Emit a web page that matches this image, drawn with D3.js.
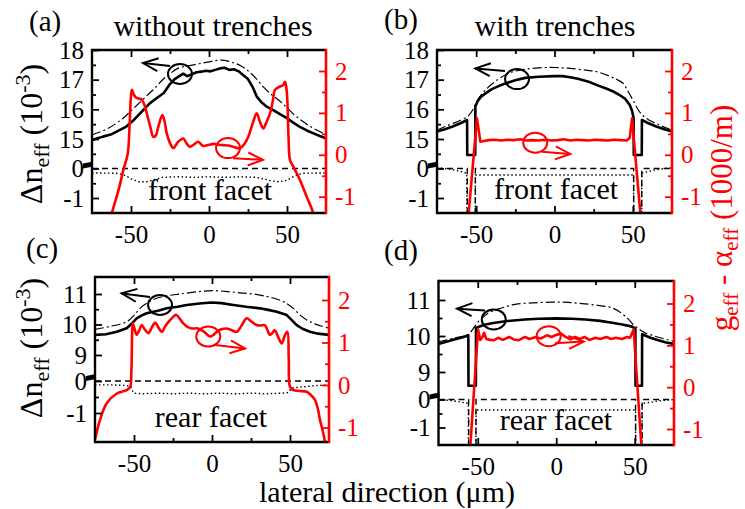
<!DOCTYPE html>
<html><head><meta charset="utf-8">
<script src="https://cdn.jsdelivr.net/npm/d3@7"></script>
<style>body{margin:0;background:#fff}svg{display:block}text{font-family:"Liberation Serif","Times New Roman",Times,serif}</style>
</head><body><svg id="c" width="745" height="509"></svg>
<script>
// ---------- data ----------
const xDomain=[-75,75];
const xTickValues=[-50,0,50];
const xMinorValues=[-25,25];
const topUpperTicks=[15,16,17,18];
const topUpperMinor=[14.5,15.5,16.5,17.5];
const botUpperTicks=[9,10,11];
const botUpperMinor=[9.5,10.5];
const lowerTicks=[-1,0];
const lowerMinor=[-0.5];
const rightTicks=[-1,0,1,2];
const rightMinor=[-0.5,0.5,1.5];

// panel (a) front facet, without trenches
const aSolid=[[-75,14.97],[-68,15.08],[-63,15.15],[-58,15.28],[-53,15.42],[-48,15.65],[-44,15.87],[-38,16.2],[-33,16.4],[-29,16.55],[-25,16.85],[-22,17.02],[-19,17.12],[-16.5,17.2],[-14,17.12],[-11,17.18],[-8,17.25],[-5,17.27],[-2,17.3],[1,17.28],[4,17.33],[7,17.38],[10,17.4],[13,17.33],[16,17.35],[19,17.28],[22,17.15],[25,17.02],[28,16.75],[30.6,16.43],[34,16.22],[37,16.09],[42,15.95],[46,15.82],[50,15.7],[54,15.55],[58,15.42],[63,15.28],[67,15.19],[71,15.1],[75,15.02]];
const aDashDot=[[-75,15.14],[-65,15.35],[-55,15.7],[-50,15.95],[-45,16.2],[-40,16.45],[-35,16.7],[-30,16.98],[-25,17.2],[-20,17.38],[-15,17.45],[-10,17.5],[-5,17.55],[0,17.6],[5,17.65],[10,17.65],[15,17.58],[20,17.48],[25,17.3],[30,17.05],[35,16.75],[40,16.5],[45,16.3],[50,16.05],[55,15.8],[60,15.6],[65,15.42],[70,15.28],[75,15.15]];
const aDashed=[[-75,0],[75,0]];
const aDotted=[[-75,-0.15],[-60,-0.16],[-55,-0.2],[-50,-0.35],[-45,-0.45],[-40,-0.45],[-35,-0.38],[-30,-0.3],[-20,-0.28],[-10,-0.3],[0,-0.28],[10,-0.3],[20,-0.28],[30,-0.3],[35,-0.35],[40,-0.42],[45,-0.45],[50,-0.4],[55,-0.25],[60,-0.16],[75,-0.15]];
const aRed=[[-75,-3],[-62.4,-1.4],[-59.2,-1.0],[-57,-0.7],[-54.9,-0.36],[-52.5,-0.05],[-51.7,0.15],[-50.8,0.8],[-50,1.4],[-49.4,1.55],[-48,1.42],[-46.3,1.35],[-43.5,1.33],[-41.5,1.2],[-39.9,0.99],[-37.5,0.65],[-35.7,0.43],[-34,0.47],[-32.5,0.67],[-29.9,0.95],[-28.5,0.8],[-27.1,0.51],[-25,0.28],[-22.9,0.16],[-20,0.3],[-16.5,0.39],[-14.5,0.28],[-12.2,0.19],[-9.5,0.25],[-6.9,0.31],[-3.7,0.21],[0,0.24],[2.8,0.26],[6,0.24],[9.2,0.23],[12.5,0.22],[15.6,0.19],[19.9,0.16],[22.5,0.25],[25.2,0.43],[28,0.75],[30.6,0.99],[32.5,0.8],[34.8,0.63],[36.5,0.75],[39.1,0.99],[41,1.3],[42.3,1.55],[45.5,1.63],[47.5,1.66],[48.7,1.74],[49.6,1.6],[50.2,1.31],[51,0.4],[51.9,-0.12],[54,-0.28],[58.3,-0.6],[62.6,-1.0],[66.9,-1.4],[75,-3]];

// panel (b) front facet, with trenches
const bSolid=[[-75,15.25],[-70,15.33],[-65,15.42],[-60,15.53],[-55.8,15.64],[-55.7,14.46],[-50.6,14.46],[-50.5,16.1],[-49,16.28],[-47,16.42],[-44,16.54],[-40,16.68],[-35,16.8],[-31,16.88],[-25,16.98],[-18.7,17.06],[-10,17.1],[0,17.12],[5,17.12],[10,17.08],[15,17.03],[21.8,16.93],[28,16.8],[33,16.7],[36.7,16.62],[41,16.5],[45.2,16.35],[48,16.15],[49.5,15.95],[50.5,15.7],[50.6,14.46],[55.7,14.46],[55.8,15.64],[60,15.53],[65,15.42],[70,15.33],[75,15.25]];
const bDashDot=[[-75,15.3],[-70,15.42],[-65,15.52],[-60,15.63],[-55,15.78],[-52,16.0],[-49,16.32],[-45,16.6],[-40.7,16.82],[-35,17.05],[-28,17.24],[-20,17.34],[-10,17.4],[0,17.41],[10,17.38],[20,17.32],[26.8,17.27],[35,17.12],[40,17.0],[43.7,16.88],[47,16.6],[50,16.32],[53,16.02],[56,15.81],[60,15.65],[65,15.52],[70,15.4],[75,15.3]];
const bDashed=[[-75,0],[-55.7,0],[-55.6,-3],[-50.6,-3],[-50.5,0],[50.5,0],[50.6,-3],[55.6,-3],[55.7,0],[75,0]];
const bDotted=[[-75,0.02],[-70,0],[-65,-0.04],[-60,-0.1],[-56,-0.16],[-55.7,-3],[-50.6,-3],[-50.5,-0.22],[50.5,-0.22],[50.6,-3],[55.6,-3],[55.7,-0.16],[60,-0.1],[65,-0.04],[70,0],[75,0.02]];
const bRed=[[-56,-2],[-54.8,-1.4],[-49.5,0.87],[-47.3,0.31],[-45,0.33],[-42,0.35],[-38,0.36],[-34,0.34],[-30,0.36],[-26,0.35],[-22,0.37],[-18,0.34],[-14,0.35],[-10,0.34],[-6,0.36],[-2,0.34],[2,0.35],[6,0.37],[10,0.34],[14,0.36],[18,0.35],[22,0.34],[26,0.36],[30,0.35],[34,0.34],[38,0.36],[42,0.35],[46,0.34],[48,0.4],[49.5,0.87],[54.8,-1.4],[56,-2]];

// panel (c) rear facet, without trenches
const cSolid=[[-75,9.66],[-68,9.68],[-61,9.76],[-54.7,9.88],[-51,10.05],[-48.3,10.2],[-45,10.3],[-41.9,10.37],[-34,10.46],[-29,10.53],[-22,10.58],[-16.2,10.64],[-8,10.69],[-0.2,10.72],[6,10.7],[13.7,10.64],[22,10.58],[30.8,10.53],[36,10.48],[41.5,10.42],[47.9,10.31],[51,10.15],[54.3,9.98],[58,9.86],[62.8,9.76],[68,9.7],[75,9.66]];
const cDashDot=[[-75,9.84],[-65,9.94],[-54.7,10.09],[-50,10.3],[-46.2,10.53],[-41,10.72],[-35.5,10.86],[-28,10.95],[-20.5,11.0],[-10,11.07],[0,11.11],[10,11.08],[18,11.04],[26.5,11.0],[35,10.92],[40,10.86],[45.7,10.75],[49,10.65],[52.1,10.53],[56,10.33],[60.7,10.15],[66,10.02],[70,9.95],[75,9.88]];
const cDashed=[[-75,0],[75,0]];
const cDotted=[[-75,-0.12],[-65,-0.12],[-55,-0.14],[-52,-0.18],[-51,-0.3],[-50,-0.38],[-45,-0.4],[-35,-0.38],[-25,-0.4],[-15,-0.38],[-5,-0.4],[5,-0.38],[15,-0.4],[25,-0.38],[35,-0.4],[45,-0.38],[49,-0.36],[51,-0.22],[55,-0.2],[65,-0.15],[75,-0.12]];
const cRed=[[-75,-1.29],[-71.8,-0.82],[-67.5,-0.43],[-61,-0.2],[-54.7,-0.12],[-52.5,-0.05],[-51.7,0.3],[-51.2,1.2],[-50.8,1.45],[-49.5,1.3],[-48.3,1.18],[-46.5,1.3],[-45.1,1.41],[-43,1.3],[-40.8,1.22],[-38.5,1.36],[-36.5,1.47],[-34.3,1.35],[-32.2,1.25],[-30,1.38],[-28,1.48],[-25.5,1.58],[-23,1.65],[-20.5,1.55],[-18.4,1.45],[-15.5,1.36],[-13,1.33],[-9,1.33],[-5,1.25],[-1.3,1.14],[1,1.18],[3,1.25],[6,1.31],[9,1.33],[12,1.3],[15.8,1.25],[19,1.4],[22.2,1.57],[25,1.5],[28.6,1.41],[31,1.4],[33.8,1.41],[35.5,1.3],[37,1.18],[38.6,1.22],[40.2,1.29],[42.5,1.12],[44.7,0.98],[46.5,1.15],[48.3,1.25],[49.2,0.6],[50,-0.04],[52.1,-0.12],[56,-0.14],[60.7,-0.16],[63.5,-0.24],[66,-0.35],[67.8,-0.55],[69.2,-0.82],[70.8,-1.05],[72.4,-1.33],[75,-2]];

// panel (d) rear facet, with trenches
const dSolid=[[-75,9.78],[-70,9.84],[-65,9.9],[-60,9.96],[-56,10.02],[-55.9,8.62],[-51.2,8.62],[-51.1,10.23],[-48,10.28],[-45,10.32],[-40,10.36],[-32.4,10.41],[-20,10.46],[-11.2,10.48],[0,10.49],[10,10.48],[18.5,10.46],[28,10.42],[35.5,10.37],[42,10.32],[48.3,10.26],[50.4,10.2],[50.5,8.62],[54.6,8.62],[54.7,10.05],[60,9.95],[65,9.88],[70,9.82],[75,9.78]];
const dDashDot=[[-75,9.84],[-65,9.94],[-56,10.05],[-53,10.2],[-49.4,10.41],[-45,10.58],[-40.9,10.69],[-33,10.8],[-26.1,10.88],[-15,10.92],[-2.7,10.94],[5,10.94],[14.3,10.91],[25,10.86],[35.5,10.78],[42,10.62],[46.1,10.46],[49,10.32],[52.5,10.2],[56,10.1],[61,10.02],[68,9.93],[75,9.85]];
const dDashed=[[-75,0],[-55.8,0],[-55.7,-3],[-51.2,-3],[-51.1,0],[50.5,0],[50.6,-3],[54.6,-3],[54.7,0],[75,0]];
const dDotted=[[-75,0],[-70,-0.02],[-65,-0.05],[-60,-0.1],[-56,-0.14],[-55.9,-3],[-51.2,-3],[-51.1,-0.375],[50.5,-0.375],[50.6,-3],[54.6,-3],[54.7,-0.14],[60,-0.1],[65,-0.05],[70,-0.02],[75,0]];
const dRed=[[-56,-2],[-54.7,-1.39],[-49.8,1.38],[-48.4,1.13],[-47,1.2],[-46,1.3],[-44.5,1.15],[-42,1.13],[-40,1.12],[-37,1.18],[-34,1.13],[-30,1.2],[-27,1.14],[-24,1.12],[-20,1.2],[-17,1.15],[-13,1.2],[-10,1.16],[-6,1.24],[-3,1.2],[0,1.25],[3,1.28],[6,1.2],[9,1.14],[12,1.2],[15,1.15],[18,1.2],[21,1.13],[25,1.18],[28,1.15],[32,1.2],[35,1.15],[38,1.18],[42,1.15],[45,1.2],[47,1.18],[49.3,1.38],[54.2,-1.39],[56,-2]];

// annotation anchors (data units): circle centre on left axis / right axis, arrows tail->tip
const aNotes={bc:[-18.6,17.19],ba:[[-25,17.46],[-42.3,17.56]],rc:[12.2,0.16],ra:[[15.4,-0.08],[34.6,-0.12]]};
const bNotes={bc:[-23.9,17.02],ba:[[-31.6,17.29],[-50.5,17.38]],rc:[-12.3,0.29],ra:[[-8.1,0.07],[10.1,0.02]]};
const cNotes={bc:[-33.3,10.64],ba:[[-39.7,10.9],[-57.9,11.02]],rc:[-2.4,1.14],ra:[[1.9,0.94],[21.2,0.86]]};
const dNotes={bc:[-39.8,10.46],ba:[[-45.4,10.71],[-63.2,10.76]],rc:[-4.8,1.22],ra:[[-0.8,1.05],[17.5,1.09]]};

// ---------- layout ----------
const panels=[
 {letter:"(a)",title:"without trenches",facet:"front facet",box:[92,326,50,213],up:[15,18,139,50],lo:[-1,0,198,168.5],r:[-1,2,196.7,71],upT:topUpperTicks,upM:topUpperMinor,
  solid:aSolid,dashdot:aDashDot,dashed:aDashed,dotted:aDotted,red:aRed,redCurve:true,notes:aNotes,letterPos:[29,31],titlePos:[213,36],facetPos:[210,200]},
 {letter:"(b)",title:"with trenches",facet:"front facet",box:[437,672,50,213],up:[15,18,139,50],lo:[-1,0,198,168.5],r:[-1,2,196.7,71],upT:topUpperTicks,upM:topUpperMinor,
  solid:bSolid,dashdot:bDashDot,dashed:bDashed,dotted:bDotted,red:bRed,redCurve:false,notes:bNotes,letterPos:[384,29],titlePos:[555,36],facetPos:[556,199]},
 {letter:"(c)",title:null,facet:"rear facet",box:[95,329,277,442],up:[9,11,355,294],lo:[-1,0,413,381],r:[-1,2,427.5,300],upT:botUpperTicks,upM:botUpperMinor,
  solid:cSolid,dashdot:cDashDot,dashed:cDashed,dotted:cDotted,red:cRed,redCurve:true,notes:cNotes,letterPos:[26,258],titlePos:null,facetPos:[211,427]},
 {letter:"(d)",title:null,facet:"rear facet",box:[438.5,674,281,445],up:[9,11,372,300],lo:[-1,0,427.5,399.5],r:[-1,2,429,303.5],upT:botUpperTicks,upM:botUpperMinor,
  solid:dSolid,dashdot:dDashDot,dashed:dDashed,dotted:dDotted,red:dRed,redCurve:false,notes:dNotes,letterPos:[384,260],titlePos:null,facetPos:[556,430]}
];

const RED="#ff0000";
const FONT='"Liberation Serif","Times New Roman",Times,serif';
const svg=d3.select("#c");
const defs=svg.append("defs");

function arrow(g,p0,p1,color){
  const dx=p1[0]-p0[0],dy=p1[1]-p0[1],len=Math.hypot(dx,dy),ux=dx/len,uy=dy/len;
  const L=15,W=6.5;
  g.append("line").attr("x1",p0[0]).attr("y1",p0[1]).attr("x2",p1[0]).attr("y2",p1[1]).attr("stroke",color).attr("stroke-width",2);
  g.append("polyline").attr("points",[[p1[0]-ux*L-uy*W,p1[1]-uy*L+ux*W],p1,[p1[0]-ux*L+uy*W,p1[1]-uy*L-ux*W]].map(q=>q.join(",")).join(" "))
   .attr("fill","none").attr("stroke",color).attr("stroke-width",2);
}

panels.forEach((p,i)=>{
  const [L,R,T,B]=p.box;
  const x=d3.scaleLinear(xDomain,[L,R]);
  const yU=d3.scaleLinear([p.up[0],p.up[1]],[p.up[2],p.up[3]]);
  const yL=d3.scaleLinear([p.lo[0],p.lo[1]],[p.lo[2],p.lo[3]]);
  const yR=d3.scaleLinear([p.r[0],p.r[1]],[p.r[2],p.r[3]]);
  defs.append("clipPath").attr("id","clip"+i).append("rect").attr("x",L).attr("y",T).attr("width",R-L).attr("height",B-T);
  const g=svg.append("g");
  const plot=g.append("g").attr("clip-path",`url(#clip${i})`);
  const lU=d3.line().x(d=>x(d[0])).y(d=>yU(d[1]));
  const lL=d3.line().x(d=>x(d[0])).y(d=>yL(d[1]));
  const lR=d3.line().x(d=>x(d[0])).y(d=>yR(d[1]));
  plot.append("path").attr("d",lL(p.dashed)).attr("fill","none").attr("stroke","#000").attr("stroke-width",1.4).attr("stroke-dasharray","6,4");
  plot.append("path").attr("d",lL(p.dotted)).attr("fill","none").attr("stroke","#000").attr("stroke-width",1.4).attr("stroke-dasharray","1.5,2.5");
  plot.append("path").attr("d",lU.curve(d3.curveCatmullRom.alpha(0.5))(p.dashdot)).attr("fill","none").attr("stroke","#000").attr("stroke-width",1.2).attr("stroke-dasharray","9,3,2,3");
  plot.append("path").attr("d",lU.curve(d3.curveLinear)(p.solid)).attr("fill","none").attr("stroke","#000").attr("stroke-width",2.6).attr("stroke-linejoin","round");
  plot.append("path").attr("d",(p.redCurve?lR.curve(d3.curveCatmullRom.alpha(0.5)):lR.curve(d3.curveLinear))(p.red)).attr("fill","none").attr("stroke",RED).attr("stroke-width",2.6).attr("stroke-linejoin","round");

  // annotations
  const n=p.notes;
  g.append("ellipse").attr("cx",x(n.bc[0])).attr("cy",yU(n.bc[1])).attr("rx",12).attr("ry",10).attr("fill","none").attr("stroke","#000").attr("stroke-width",2);
  arrow(g,[x(n.ba[0][0]),yU(n.ba[0][1])],[x(n.ba[1][0]),yU(n.ba[1][1])],"#000");
  g.append("ellipse").attr("cx",x(n.rc[0])).attr("cy",yR(n.rc[1])).attr("rx",12).attr("ry",10).attr("fill","none").attr("stroke",RED).attr("stroke-width",2);
  arrow(g,[x(n.ra[0][0]),yR(n.ra[0][1])],[x(n.ra[1][0]),yR(n.ra[1][1])],RED);

  // axes
  const fmt=d=>String(d);
  const styleAx=(sel,color)=>{sel.attr("font-family",null).attr("font-size",null);sel.select(".domain").remove();sel.selectAll("line").attr("stroke",color).attr("stroke-width",1.8);
    sel.selectAll("text").attr("fill",color).style("font-family",FONT).style("font-size","25px");};
  styleAx(g.append("g").attr("transform",`translate(${L},0)`).call(d3.axisLeft(yU).tickValues(p.upT).tickSizeInner(-7).tickSizeOuter(0).tickPadding(8).tickFormat(fmt)),"#000");
  styleAx(g.append("g").attr("transform",`translate(${L},0)`).call(d3.axisLeft(yU).tickValues(p.upM).tickSizeInner(-4).tickSizeOuter(0).tickFormat("")),"#000");
  styleAx(g.append("g").attr("transform",`translate(${L},0)`).call(d3.axisLeft(yL).tickValues(lowerTicks).tickSizeInner(-7).tickSizeOuter(0).tickPadding(8).tickFormat(fmt)),"#000");
  styleAx(g.append("g").attr("transform",`translate(${L},0)`).call(d3.axisLeft(yL).tickValues(lowerMinor).tickSizeInner(-4).tickSizeOuter(0).tickFormat("")),"#000");
  styleAx(g.append("g").attr("transform",`translate(${R},0)`).call(d3.axisRight(yR).tickValues(rightTicks).tickSizeInner(-7).tickSizeOuter(0).tickPadding(9).tickFormat(fmt)),RED);
  styleAx(g.append("g").attr("transform",`translate(${R},0)`).call(d3.axisRight(yR).tickValues(rightMinor).tickSizeInner(-4).tickSizeOuter(0).tickFormat("")),RED);
  styleAx(g.append("g").attr("transform",`translate(0,${B})`).call(d3.axisBottom(x).tickValues(xTickValues).tickSizeInner(-7).tickSizeOuter(0).tickPadding(12).tickFormat(fmt)),"#000");
  styleAx(g.append("g").attr("transform",`translate(0,${B})`).call(d3.axisBottom(x).tickValues(xMinorValues).tickSizeInner(-4).tickSizeOuter(0).tickFormat("")),"#000");
  styleAx(g.append("g").attr("transform",`translate(0,${T})`).call(d3.axisTop(x).tickValues(xTickValues).tickSizeInner(-7).tickSizeOuter(0).tickFormat("")),"#000");
  styleAx(g.append("g").attr("transform",`translate(0,${T})`).call(d3.axisTop(x).tickValues(xMinorValues).tickSizeInner(-4).tickSizeOuter(0).tickFormat("")),"#000");

  // frame
  g.append("line").attr("x1",L).attr("x2",R).attr("y1",T).attr("y2",T).attr("stroke","#000").attr("stroke-width",2.4);
  g.append("line").attr("x1",L).attr("x2",R).attr("y1",B).attr("y2",B).attr("stroke","#000").attr("stroke-width",2.4);
  g.append("line").attr("x1",L).attr("x2",L).attr("y1",T-1.2).attr("y2",B+1.2).attr("stroke","#000").attr("stroke-width",2.4);
  g.append("line").attr("x1",R).attr("x2",R).attr("y1",T-1.2).attr("y2",B+1.2).attr("stroke",RED).attr("stroke-width",2.6);
  // axis break mark
  const yb=yL(0)-4;
  g.append("polygon").attr("points",[[L-9,yb-1],[L+1,yb-3],[L+1,yb+2],[L-9,yb+4]].map(q=>q.join(",")).join(" ")).attr("fill","#000");

  // texts
  g.append("text").attr("x",p.letterPos[0]).attr("y",p.letterPos[1]).style("font-size","29px").text(p.letter);
  if(p.title) g.append("text").attr("x",p.titlePos[0]).attr("y",p.titlePos[1]).attr("text-anchor","middle").style("font-size","30px").text(p.title);
  g.append("text").attr("x",p.facetPos[0]).attr("y",p.facetPos[1]).attr("text-anchor","middle").style("font-size","30px").text(p.facet);
});

// y labels
function yLabel(cx,cy){
  const t=svg.append("text").attr("transform",`translate(${cx},${cy}) rotate(-90)`).attr("text-anchor","middle").style("font-size","32px");
  t.append("tspan").text("Δn");
  t.append("tspan").attr("dy",7).style("font-size","22px").text("eff");
  t.append("tspan").attr("dy",-7).text(" (10");
  t.append("tspan").attr("dy",-12).style("font-size","22px").text("-3");
  t.append("tspan").attr("dy",12).text(")");
}
yLabel(42,134);
yLabel(42,348);

const rl=svg.append("text").attr("transform","translate(732,218) rotate(-90)").attr("text-anchor","middle").attr("fill",RED).style("font-size","31px");
rl.append("tspan").text("g");
rl.append("tspan").attr("dy",6).style("font-size","21px").text("eff");
rl.append("tspan").attr("dy",-6).text(" - α");
rl.append("tspan").attr("dy",6).style("font-size","21px").text("eff");
rl.append("tspan").attr("dy",-6).text(" (1000/m)");

svg.append("text").attr("x",387).attr("y",502).attr("text-anchor","middle").style("font-size","30px").text("lateral direction (μm)");
</script></body></html>
